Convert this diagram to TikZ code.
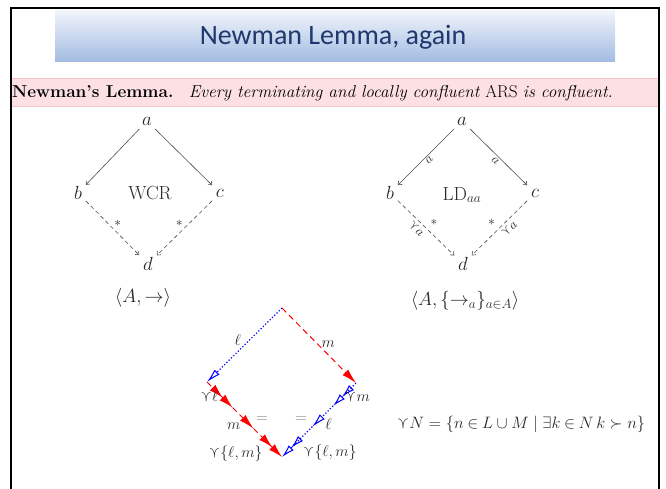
\RequirePackage{fix-cm}
\documentclass[tikz,border=0pt]{standalone}
\usepackage{amsmath,amssymb}
\usepackage{fontspec}
\newfontfamily\titlefont{Carlito}
\usetikzlibrary{arrows.meta,calc}
\definecolor{titleblue}{RGB}{31,56,110}
\definecolor{bandtop}{RGB}{242,245,251}
\definecolor{bandbot}{RGB}{163,188,226}
\definecolor{pinkfill}{RGB}{253,224,228}
\definecolor{pinkedge}{RGB}{245,195,200}
\definecolor{ink}{RGB}{40,40,40}
\tikzset{
  lbl/.style={font=\fontsize{19}{22}\selectfont, text=ink, inner sep=3pt},
  small/.style={font=\fontsize{13.5}{15}\selectfont, text=ink, inner sep=1.5pt},
  bl/.style={font=\fontsize{15.5}{18}\selectfont, text=ink, inner sep=2pt},
  arr/.style={draw=black!70, line width=0.6pt, -{Straight Barb[length=3pt,width=5pt]}, shorten >=1pt, shorten <=1pt},
  darr/.style={arr, dash pattern=on 4pt off 3pt},
  redln/.style={draw=red, line width=1pt, dash pattern=on 6pt off 4pt},
  blueln/.style={draw=blue, line width=1.2pt, dash pattern=on 1.2pt off 2pt},
  rtip/.style={-{Latex[length=15pt,width=8pt,fill=red]}},
  rtwo/.style={-{Latex[length=14pt,width=8pt,fill=red] Latex[length=14pt,width=8pt,fill=red]}},
  btip/.style={-{Latex[open,length=14pt,width=7pt,line width=1pt]}},
  btwo/.style={-{Latex[open,length=13pt,width=7pt,line width=1pt] Latex[open,length=13pt,width=7pt,line width=1pt]}},
}
\begin{document}
\begin{tikzpicture}[x=1pt,y=-1pt]
\useasboundingbox (0,0) rectangle (666,488);
% title band
\shade[top color=bandtop, bottom color=bandbot] (55,10) rectangle (615,61);
\node[font=\titlefont\fontsize{28}{32}\selectfont, text=titleblue] (title) at (333,37) {Newman Lemma, again};
% theorem band
\fill[pinkfill] (11,78) rectangle (659,106);
\draw[pinkedge, line width=0.6pt] (11,78) -- (659,78) (11,106) -- (659,106);
\node[anchor=base west, inner sep=0pt, font=\fontsize{17.2}{20}\selectfont] (thm) at (12,97)
  {\textbf{Newman's Lemma.}\hspace{0.9em}\textit{Every terminating and locally confluent} ARS \textit{is confluent.}};
% frame
\draw[black, line width=2.5pt] (11,490) -- (11,8) -- (659,8) -- (659,490);
% left diagram
\node[lbl] (a1) at (147,121) {$a$};
\node[lbl] (b1) at (78,193) {$b$};
\node[lbl] (c1) at (220,193) {$c$};
\node[lbl] (d1) at (148,264) {$d$};
\node[lbl] (w1) at (150,193) {WCR};
\node[lbl] (s1) at (143,298) {$\langle A,\to\rangle$};
\draw[arr] (a1) -- (b1);
\draw[arr] (a1) -- (c1);
\draw[darr] (b1) -- node[small, above right]{$*$} (d1);
\draw[darr] (c1) -- node[small, above left]{$*$} (d1);
% right diagram
\node[lbl] (a2) at (462,121) {$a$};
\node[lbl] (b2) at (390,193) {$b$};
\node[lbl] (c2) at (535,193) {$c$};
\node[lbl] (d2) at (463,264) {$d$};
\node[lbl] (w2) at (462,195) {$\mathrm{LD}_{aa}$};
\node[lbl] (s2) at (465,301) {$\langle A,\{\to_a\}_{a\in A}\rangle$};
\draw[arr] (a2) -- node[small, below, sloped]{$a$} (b2);
\draw[arr] (a2) -- node[small, below, sloped]{$a$} (c2);
\draw[darr] (b2) -- node[small, above right=2pt, pos=0.52, inner sep=1pt]{$*$} node[small, below=3pt, sloped, pos=0.42, inner sep=0.5pt]{$\curlyvee a$} (d2);
\draw[darr] (c2) -- node[small, above left=2pt, pos=0.52, inner sep=1pt]{$*$} node[small, below=3pt, sloped, pos=0.42, inner sep=0.5pt]{$\curlyvee a$} (d2);
% bottom diagram
\coordinate (T) at (282,308);
\coordinate (L) at (207,382);
\coordinate (R) at (356,383);
\coordinate (B) at (282,457);
\coordinate (p1) at ($(L)!0.34!(B)$);
\coordinate (p2) at ($(L)!0.62!(B)$);
\coordinate (q1) at ($(R)!0.31!(B)$);
\coordinate (q2) at ($(R)!0.59!(B)$);
\draw[blueln, btip] (T) -- node[bl, above left, xshift=-1pt, yshift=-3pt]{$\ell$} (L);
\draw[redln, rtip] (T) -- node[bl, above right, yshift=-4pt]{$m$} (R);
\draw[redln, rtwo] (L) -- node[bl, left, pos=0.55]{$\curlyvee\ell$} (p1);
\draw[redln, rtip] (p1) -- node[bl, below left, yshift=-2pt]{$m$} (p2);
\draw[redln, rtwo] (p2) -- node[bl, anchor=east, pos=0.4, yshift=-14pt]{$\curlyvee\{\ell,m\}$} (B);
\draw[blueln, btwo] (R) -- node[bl, right, pos=0.6]{$\curlyvee m$} (q1);
\draw[blueln, btip] (q1) -- node[bl, below right]{$\ell$} (q2);
\draw[blueln, btwo] (q2) -- node[bl, anchor=west, pos=0.4, yshift=-14pt]{$\curlyvee\{\ell,m\}$} (B);
\node[bl, text=gray] (eq1) at (262,420) {$=$};
\node[bl, text=gray] (eq2) at (301,420) {$=$};
\node[font=\fontsize{16.5}{20}\selectfont, text=ink] (eqn) at (521,424)
  {$\curlyvee N=\{n\mathbin{\in}L\cup M\mid\exists k\mathbin{\in}N\,k\succ n\}$};
\end{tikzpicture}
\end{document}
